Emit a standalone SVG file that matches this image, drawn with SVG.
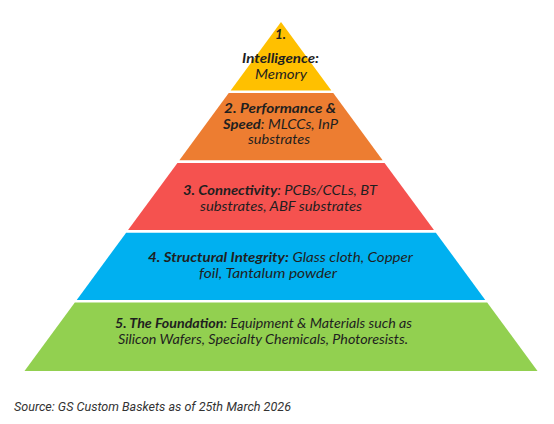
<svg xmlns="http://www.w3.org/2000/svg" width="554" height="424" viewBox="0 0 554 424">
<style>
.lbl{font-family:Lato,"Liberation Sans",sans-serif;font-size:14px;font-style:italic;fill:#1f1f1f}
.b{font-weight:bold}
.src{font-family:Roboto,"Liberation Sans",sans-serif;font-size:13px;font-style:italic;fill:#333}
</style>
<rect width="554" height="424" fill="#fff"/>
<g id="layer1">
<polygon points="281,22 331.35,90.5 230.65,90.5" fill="#FFC000"/>
<text class="lbl b" x="275" y="39" textLength="11" lengthAdjust="spacingAndGlyphs">1.</text>
<text class="lbl b" x="242" y="63" textLength="77" lengthAdjust="spacingAndGlyphs">Intelligence:</text>
<text class="lbl" x="255" y="79" textLength="52" lengthAdjust="spacingAndGlyphs">Memory</text>
</g>
<g id="layer2">
<polygon points="228.74,93.1 333.26,93.1 382.65,160.3 179.35,160.3" fill="#ED7D31"/>
<text class="lbl b" x="224" y="113" textLength="112" lengthAdjust="spacingAndGlyphs">2. Performance &amp;</text>
<text class="lbl" x="223" y="129" textLength="115" lengthAdjust="spacingAndGlyphs"><tspan class="b">Speed</tspan>: MLCCs, InP</text>
<text class="lbl" x="248" y="144" textLength="62" lengthAdjust="spacingAndGlyphs">substrates</text>
</g>
<g id="layer3">
<polygon points="177.44,162.9 384.56,162.9 433.95,230.1 128.05,230.1" fill="#F5524F"/>
<text class="lbl" x="183" y="195" textLength="194" lengthAdjust="spacingAndGlyphs"><tspan class="b">3. Connectivity</tspan>: PCBs/CCLs, BT</text>
<text class="lbl" x="200" y="211" textLength="162" lengthAdjust="spacingAndGlyphs">substrates, ABF substrates</text>
</g>
<g id="layer4">
<polygon points="126.14,232.7 435.86,232.7 485.26,299.9 76.74,299.9" fill="#00B0F0"/>
<text class="lbl" x="148" y="262" textLength="265" lengthAdjust="spacingAndGlyphs"><tspan class="b">4. Structural Integrity:</tspan> Glass cloth, Copper</text>
<text class="lbl" x="199" y="278" textLength="138" lengthAdjust="spacingAndGlyphs">foil, Tantalum powder</text>
</g>
<g id="layer5">
<polygon points="74.83,302.5 487.17,302.5 537.5,371 24.5,371" fill="#92D050"/>
<text class="lbl" x="115" y="328" textLength="297" lengthAdjust="spacingAndGlyphs"><tspan class="b">5. The Foundation</tspan>: Equipment &amp; Materials such as</text>
<text class="lbl" x="118" y="344" textLength="290" lengthAdjust="spacingAndGlyphs">Silicon Wafers, Specialty Chemicals, Photoresists.</text>
</g>
<g id="connectors"/>
<text class="src" x="14" y="411" textLength="277" lengthAdjust="spacingAndGlyphs">Source: GS Custom Baskets as of 25th March 2026</text>
</svg>
